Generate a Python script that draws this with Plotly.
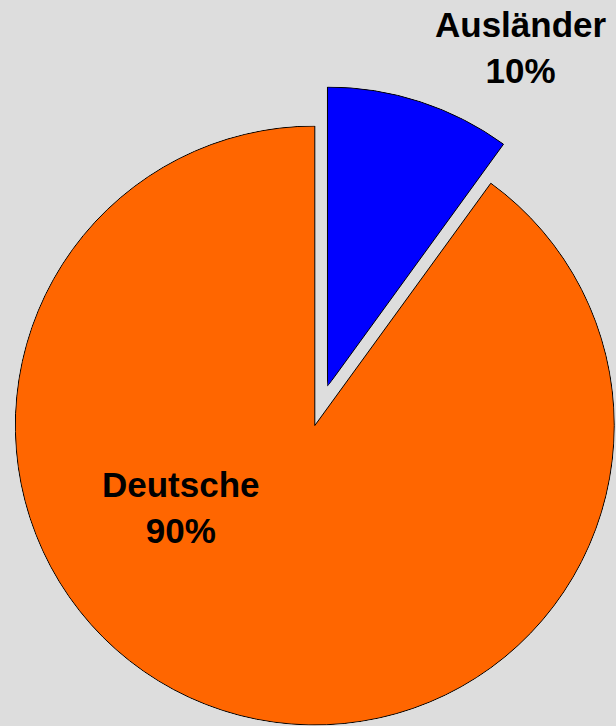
import numpy as np
import plotly.graph_objects as go

# Population shares
labels = ["Ausländer", "Deutsche"]
values = [10, 90]
colors = ["#0000FF", "#FF6600"]
pull = [0.137, 0.0]

# Canvas and pie geometry (pixels)
W, H = 616, 726
CX, CY = 314.8, 425.5
R = 299.5
RMAX = 1.002          # radial headroom so the slice outline is not clipped
SECTOR_PAD = 4.0      # degrees of headroom around a partial sector

# Label anchor points (pixels)
label_pos = [(521.0, 47.0), (181.0, 507.0)]


def sector_bbox(s0, s1):
    """Bounding box of a polar sector in unit-radius coords (mirrors plotly.js)."""
    arc = s1 - s0
    a0 = s0 % 360
    a1 = a0 + arc
    ax0, ay0 = np.cos(np.radians(a0)), np.sin(np.radians(a0))
    ax1, ay1 = np.cos(np.radians(a1)), np.sin(np.radians(a1))
    if (a0 <= 90 and a1 >= 90) or (a0 > 90 and a1 >= 450):
        y1 = 1
    elif ay0 <= 0 and ay1 <= 0:
        y1 = 0
    else:
        y1 = max(ay0, ay1)
    if (a0 <= 180 and a1 >= 180) or (a0 > 180 and a1 >= 540):
        x0 = -1
    elif ax0 >= 0 and ax1 >= 0:
        x0 = 0
    else:
        x0 = min(ax0, ax1)
    if (a0 <= 270 and a1 >= 270) or (a0 > 270 and a1 >= 630):
        y0 = -1
    elif ay0 >= 0 and ay1 >= 0:
        y0 = 0
    else:
        y0 = min(ay0, ay1)
    if a1 >= 360:
        x1 = 1
    elif ax0 <= 0 and ax1 <= 0:
        x1 = 0
    else:
        x1 = max(ax0, ax1)
    return x0, y0, x1, y1


shares = np.array(values, dtype=float) / sum(values)
spans = shares * 360.0
starts = np.concatenate([[0.0], np.cumsum(spans)[:-1]])
mids = starts + spans / 2.0

fig = go.Figure()
layout_polars = {}
Rd = R * RMAX

for i, (lab, col) in enumerate(zip(labels, colors)):
    name = "polar" if i == 0 else f"polar{i + 1}"
    # slice origin, shifted outward along its bisector by the pull amount
    ox = CX + pull[i] * R * np.sin(np.radians(mids[i]))
    oy = CY - pull[i] * R * np.cos(np.radians(mids[i]))

    if spans[i] > 180:
        sector = [0, 360]
        bx0, by0, bx1, by1 = -1, -1, 1, 1
    else:
        # screen angles, counterclockwise from east
        s_hi = 90 - starts[i] + SECTOR_PAD
        s_lo = 90 - starts[i] - spans[i] - SECTOR_PAD
        sector = [s_lo, s_hi]
        bx0, by0, bx1, by1 = sector_bbox(s_lo, s_hi)

    dom_x = [(ox + bx0 * Rd) / W, (ox + bx1 * Rd) / W]
    dom_y = [1 - (oy - by0 * Rd) / H, 1 - (oy - by1 * Rd) / H]
    dom_x = [min(max(v, 0), 1) for v in dom_x]
    dom_y = [min(max(v, 0), 1) for v in dom_y]

    layout_polars[name] = dict(
        domain=dict(x=dom_x, y=dom_y),
        sector=sector,
        bgcolor="rgba(0,0,0,0)",
        radialaxis=dict(visible=False, range=[0, RMAX]),
        angularaxis=dict(visible=False, rotation=90, direction="clockwise"),
    )

    fig.add_trace(go.Barpolar(
        r=[1.0],
        theta=[mids[i]],
        width=[spans[i]],
        base=[0],
        name=lab,
        subplot=name,
        marker=dict(color=col, line=dict(color="#000000", width=1)),
        hovertemplate=f"{lab}: {shares[i] * 100:.0f}%<extra></extra>",
    ))

annotations = []
for i, lab in enumerate(labels):
    px, py = label_pos[i]
    annotations.append(dict(
        text=f"{lab}<br>{shares[i] * 100:.0f}%",
        x=px / W, y=1 - py / H, xref="paper", yref="paper",
        xanchor="center", yanchor="middle", showarrow=False,
        align="center",
        font=dict(family="Liberation Sans, Arial, sans-serif", size=35,
                  color="#000000", weight="bold"),
    ))

fig.update_layout(
    width=W, height=H,
    margin=dict(l=0, r=0, t=0, b=0),
    paper_bgcolor="#DDDDDD",
    plot_bgcolor="#DDDDDD",
    showlegend=False,
    annotations=annotations,
    **layout_polars,
)

fig.write_html("out.html")
